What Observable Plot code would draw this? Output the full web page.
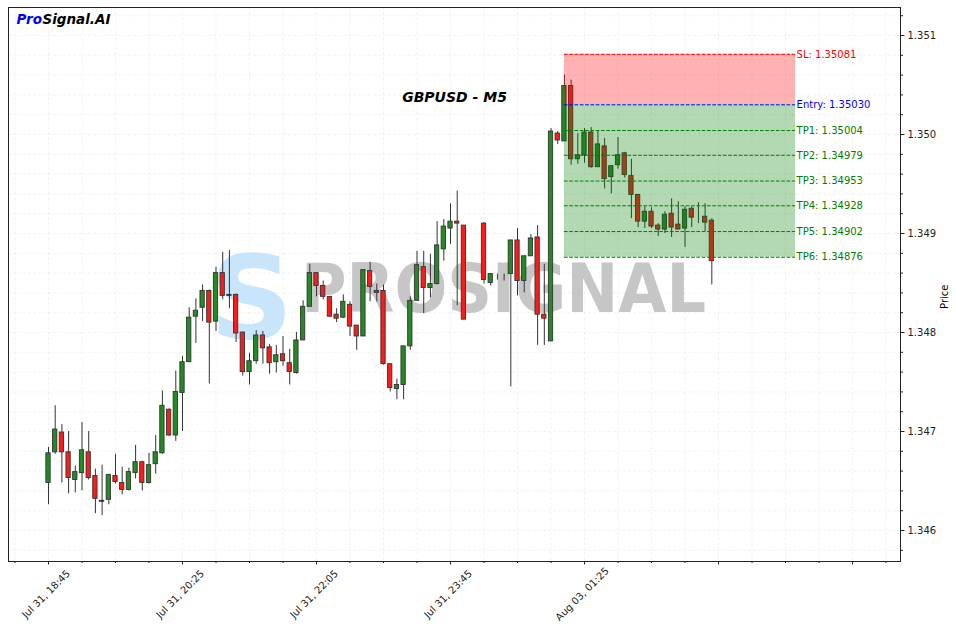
<!DOCTYPE html>
<html><head><meta charset="utf-8">
<script src="https://cdn.jsdelivr.net/npm/d3@7"></script>
<script src="https://cdn.jsdelivr.net/npm/@observablehq/plot@0.6"></script>
<style>html,body{margin:0;padding:0;background:#fff;overflow:hidden;}</style>
</head><body><div id="chart"></div>
<script>
// ---- data (GBPUSD M5 candles, index-based x) ----
const openP = [1.34648,1.34679,1.34699,1.34679,1.34651,1.34658,1.34679,1.34655,1.34630,1.34631,
1.34655,1.34648,1.34641,1.34658,1.34669,1.34648,1.34667,1.34678,1.34722,1.34696,
1.34739,1.34770,1.34816,1.34825,1.34842,1.34811,1.34860,1.34838,1.34838,1.34800,
1.34760,1.34771,1.34797,1.34785,1.34770,1.34778,1.34769,1.34759,1.34792,1.34826,
1.34860,1.34847,1.34836,1.34818,1.34815,1.34828,1.34807,1.34796,1.34862,1.34842,
1.34842,1.34768,1.34743,1.34747,1.34786,1.34832,1.34866,1.34845,1.34849,1.34884,
1.34905,1.34912,1.34908,1.34910,1.34911,1.34910,1.34850,1.34859,1.34859,1.34859,
1.34893,1.34852,1.34877,1.34896,1.34818,1.34791,1.35001,1.34993,1.35049,1.34975,
1.34979,1.35002,1.34967,1.34988,1.34957,1.34969,1.34981,1.34958,1.34939,1.34912,
1.34922,1.34908,1.34904,1.34920,1.34909,1.34905,1.34925,1.34917,1.34917,1.34913];
const highP = [1.34684,1.34726,1.34707,1.34700,1.34665,1.34709,1.34700,1.34662,1.34666,1.34657,
1.34677,1.34664,1.34663,1.34686,1.34670,1.34678,1.34696,1.34741,1.34723,1.34761,
1.34776,1.34825,1.34834,1.34848,1.34843,1.34866,1.34881,1.34883,1.34839,1.34800,
1.34779,1.34802,1.34801,1.34788,1.34787,1.34796,1.34783,1.34800,1.34832,1.34869,
1.34860,1.34852,1.34836,1.34824,1.34838,1.34831,1.34807,1.34863,1.34871,1.34849,
1.34848,1.34768,1.34753,1.34786,1.34836,1.34882,1.34882,1.34879,1.34912,1.34914,
1.34930,1.34943,1.34908,1.34910,1.34911,1.34911,1.34859,1.34859,1.34859,1.34893,
1.34905,1.34877,1.34899,1.34908,1.34869,1.35006,1.35003,1.35060,1.35055,1.35001,
1.35006,1.35007,1.35003,1.34996,1.34968,1.34997,1.34982,1.34975,1.34939,1.34927,
1.34926,1.34910,1.34922,1.34935,1.34932,1.34927,1.34927,1.34931,1.34930,1.34915];
const lowP = [1.34626,1.34677,1.34648,1.34637,1.34638,1.34640,1.34651,1.34617,1.34615,1.34626,
1.34647,1.34636,1.34640,1.34652,1.34640,1.34647,1.34657,1.34677,1.34695,1.34690,
1.34700,1.34770,1.34789,1.34811,1.34748,1.34801,1.34833,1.34824,1.34790,1.34756,
1.34747,1.34768,1.34768,1.34758,1.34759,1.34766,1.34747,1.34758,1.34792,1.34826,
1.34836,1.34833,1.34815,1.34810,1.34814,1.34796,1.34782,1.34796,1.34831,1.34831,
1.34767,1.34740,1.34732,1.34732,1.34782,1.34832,1.34819,1.34835,1.34848,1.34872,
1.34889,1.34827,1.34813,1.34910,1.34911,1.34849,1.34847,1.34853,1.34852,1.34745,
1.34837,1.34840,1.34877,1.34787,1.34787,1.34791,1.34990,1.34993,1.34969,1.34970,
1.34971,1.34966,1.34967,1.34945,1.34940,1.34965,1.34956,1.34915,1.34906,1.34905,
1.34905,1.34897,1.34900,1.34896,1.34904,1.34886,1.34906,1.34910,1.34902,1.34848];
const closeP = [1.34678,1.34702,1.34679,1.34653,1.34659,1.34681,1.34653,1.34632,1.34629,1.34656,
1.34649,1.34641,1.34659,1.34669,1.34648,1.34666,1.34679,1.34726,1.34696,1.34740,
1.34770,1.34815,1.34822,1.34842,1.34810,1.34860,1.34837,1.34837,1.34799,1.34760,
1.34771,1.34797,1.34784,1.34769,1.34777,1.34771,1.34760,1.34792,1.34826,1.34860,
1.34847,1.34836,1.34816,1.34814,1.34831,1.34806,1.34796,1.34863,1.34846,1.34840,
1.34768,1.34744,1.34747,1.34786,1.34832,1.34868,1.34845,1.34849,1.34888,1.34907,
1.34912,1.34910,1.34813,1.34910,1.34911,1.34853,1.34859,1.34859,1.34859,1.34893,
1.34852,1.34877,1.34895,1.34818,1.34814,1.35003,1.34994,1.35049,1.34975,1.34979,
1.35002,1.34967,1.34990,1.34955,1.34968,1.34979,1.34959,1.34939,1.34912,1.34922,
1.34907,1.34904,1.34919,1.34906,1.34904,1.34924,1.34916,1.34917,1.34911,1.34872];

const xTickIndex = [0, 20, 40, 60, 80];
const xTickLabels = ["Jul 31, 18:45", "Jul 31, 20:25", "Jul 31, 22:05", "Jul 31, 23:45", "Aug 03, 01:25"];
const yTickValues = [1.346, 1.347, 1.348, 1.349, 1.350, 1.351];

const levelNames = ["SL", "Entry", "TP1", "TP2", "TP3", "TP4", "TP5", "TP6"];
const levelValues = [1.35081, 1.35030, 1.35004, 1.34979, 1.34953, 1.34928, 1.34902, 1.34876];
const levelColors = ["red", "blue", "green", "green", "green", "green", "green", "green"];
const zoneStart = 77, zoneEnd = 111.5;

const symbolTitle = "GBPUSD - M5";
const brandPro = "Pro", brandRest = "Signal.AI";
const watermarkWord = "PROSIGNAL";

// ---- derived tables ----
const candles = openP.map((o, i) => ({i, o, h: highP[i], l: lowP[i], c: closeP[i]}));
const levels = levelNames.map((name, k) => ({name, value: levelValues[k], color: levelColors[k]}));
const sl = levelValues[0], entry = levelValues[1], lastTp = levelValues[levelValues.length - 1];
const zones = [
  {y1: entry, y2: sl, fill: "red"},
  {y1: lastTp, y2: entry, fill: "green"}
];
const xMajor = d3.range(0, 121, 20);
const xMinor = d3.range(-5, 126, 5);
const yMinor = d3.range(13458, 13513, 2).map(v => v / 10000);
const xLabels = xTickIndex.map((v, k) => ({v, label: xTickLabels[k]}));

const font = "DejaVu Sans";
const up = "#228b22", down = "#ff1a1a", edge = "#333";

const chart = Plot.plot({
  width: 956,
  height: 632,
  marginLeft: 8,
  marginRight: 56,
  marginTop: 7,
  marginBottom: 71,
  style: {fontFamily: font, fontSize: "10px", background: "#fff", color: "#222"},
  x: {domain: [-5.97, 127.16]},
  y: {domain: [1.345687, 1.351283]},
  color: {type: "identity"},
  marks: [
    // grid (major + minor)
    Plot.ruleX(xMinor, {x: d => d, stroke: "#b0b0b0", strokeOpacity: 0.2, strokeWidth: 0.8, strokeDasharray: "3,2"}),
    Plot.ruleY(yMinor, {y: d => d, stroke: "#b0b0b0", strokeOpacity: 0.2, strokeWidth: 0.8, strokeDasharray: "3,2"}),
    // watermark
    Plot.text(["S"], {frameAnchor: "top-left", lineAnchor: "middle", dx: 243, dy: 293, fontSize: 116, fontWeight: "bold", fill: "#c8e5fb", textAnchor: "middle", fontFamily: font}),
    Plot.text([watermarkWord], {frameAnchor: "top-left", lineAnchor: "middle", dx: 495, dy: 283, fontSize: 67, fontWeight: "bold", fill: "#c6c6c6", textAnchor: "middle", fontFamily: font}),
    // candles
    Plot.ruleX(candles, {x: "i", y1: "l", y2: "h", stroke: edge, strokeWidth: 1}),
    Plot.rect(candles, {
      x1: d => d.i - 0.32, x2: d => d.i + 0.32,
      y1: d => Math.min(d.o, d.c), y2: d => Math.max(d.o, d.c),
      fill: d => d.c >= d.o ? up : down, stroke: edge, strokeWidth: 0.9
    }),
    // SL / TP zones
    Plot.rect(zones, {x1: () => zoneStart, x2: () => zoneEnd, y1: "y1", y2: "y2", fill: "fill", fillOpacity: 0.3}),
    Plot.ruleY(levels, {y: "value", x1: () => zoneStart, x2: () => zoneEnd, stroke: "color", strokeWidth: 1, strokeDasharray: "3.7,1.6"}),
    Plot.text(levels, {x: () => zoneEnd, y: "value", text: d => `${d.name}: ${d.value.toFixed(5)}`, fill: "color", textAnchor: "start", dx: 1, fontSize: 10}),
    // title & brand
    Plot.text([symbolTitle], {frameAnchor: "top", lineAnchor: "middle", dy: 90, fontSize: 14, fontWeight: "bold", fontStyle: "italic", fill: "#000"}),
    Plot.text([brandPro], {frameAnchor: "top-left", lineAnchor: "middle", dx: 8, dy: 12, textAnchor: "start", fontSize: 13.5, fontWeight: "bold", fontStyle: "italic", fill: "blue"}),
    Plot.text([brandRest], {frameAnchor: "top-left", lineAnchor: "middle", dx: 34, dy: 12, textAnchor: "start", fontSize: 13.5, fontWeight: "bold", fontStyle: "italic", fill: "#000"}),
    // frame & axes
    Plot.frame({stroke: "#222"}),
    Plot.axisX(xMajor, {anchor: "bottom", tickSize: 3.5, tickFormat: () => "", label: null, stroke: "#222"}),
    Plot.axisX(xMinor, {anchor: "bottom", tickSize: 2, tickFormat: () => "", label: null, stroke: "#222"}),
    Plot.text(xLabels, {x: "v", text: "label", frameAnchor: "bottom", dy: 35, rotate: -45, textAnchor: "middle", fontSize: 10, fill: "#222"}),
    Plot.axisY(yTickValues, {anchor: "right", tickSize: 3.5, tickPadding: 3.5, tickFormat: d3.format(".3f"), label: null, fontSize: 10, stroke: "#222"}),
    Plot.axisY(yMinor, {anchor: "right", tickSize: 2, tickFormat: () => "", label: null, stroke: "#222"}),
    Plot.text(["Price"], {frameAnchor: "right", dx: 44, rotate: -90, fontSize: 10, fill: "#000"})
  ]
});

// squeeze watermark word to its width in the reference
d3.select(chart).selectAll("text").filter(function () { return this.textContent === watermarkWord; })
  .attr("textLength", 405).attr("lengthAdjust", "spacingAndGlyphs");

document.getElementById("chart").appendChild(chart);
</script>
</body></html>
